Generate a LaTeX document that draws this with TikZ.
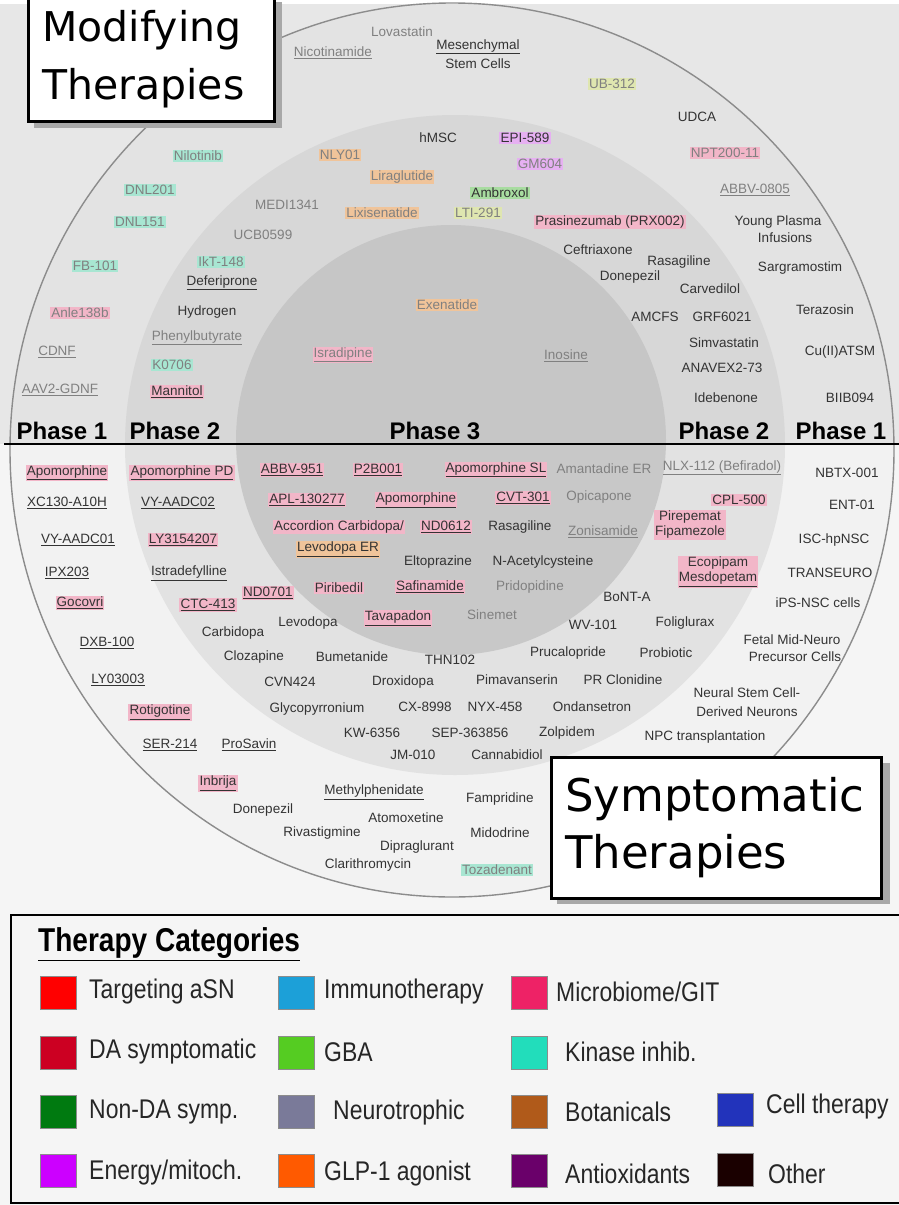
\documentclass[tikz,border=0pt]{standalone}
\usepackage{fontspec}
\setmainfont{Liberation Sans}
\newfontfamily\boxfont{DejaVu Sans}
\newfontfamily\legfont[FakeStretch=0.85]{Liberation Sans}
\newcommand\drugsz{\fontsize{13.5}{15}\selectfont}
\newcommand\udl[1]{\underline{#1}}
\definecolor{bgbot}{HTML}{F5F5F5}
\definecolor{bgtop}{HTML}{E7E7E7}
\definecolor{rOneT}{HTML}{E3E3E3}
\definecolor{rTwoT}{HTML}{D7D7D7}
\definecolor{rThrT}{HTML}{C6C6C6}
\definecolor{rOneB}{HTML}{F2F2F2}
\definecolor{rTwoB}{HTML}{E2E2E2}
\definecolor{rThrB}{HTML}{C8C8C8}
\definecolor{outl}{HTML}{8C8C8C}
\definecolor{shadowc}{HTML}{A8A8A8}
\definecolor{txtd}{HTML}{333333}
\definecolor{txtf}{HTML}{808080}
\definecolor{hlpink}{HTML}{F2B6C8}
\definecolor{hlorange}{HTML}{F0C49A}
\definecolor{hlteal}{HTML}{A8E6D2}
\definecolor{hlyg}{HTML}{DFE6B0}
\definecolor{hlgreen}{HTML}{A8DCA0}
\definecolor{hlviolet}{HTML}{E6B0F2}
\definecolor{cTarg}{HTML}{FF0000}
\definecolor{cDA}{HTML}{CC0022}
\definecolor{cNonDA}{HTML}{007A10}
\definecolor{cEnergy}{HTML}{CC00FF}
\definecolor{cImmuno}{HTML}{1CA0D8}
\definecolor{cGBA}{HTML}{55CC22}
\definecolor{cNeuro}{HTML}{7A7A99}
\definecolor{cGLP}{HTML}{FF5A00}
\definecolor{cMicro}{HTML}{EE2266}
\definecolor{cKinase}{HTML}{22DDBB}
\definecolor{cBot}{HTML}{B05A1A}
\definecolor{cAnti}{HTML}{6A006A}
\definecolor{cCell}{HTML}{2233BB}
\definecolor{cOther}{HTML}{1A0000}
\tikzset{
  drug/.style={font=\drugsz, text=txtd, inner sep=1.2pt},
  fnt/.style={drug, text=txtf},
  hpk/.style={fill=hlpink},
  hog/.style={fill=hlorange},
  htl/.style={fill=hlteal},
  hyg/.style={fill=hlyg},
  hgr/.style={fill=hlgreen},
  hvi/.style={fill=hlviolet},
  phase/.style={font=\fontsize{24}{26}\selectfont\bfseries, text=black, inner sep=1pt},
  titlebox/.style={draw=black, line width=2.5pt, fill=white, align=left, anchor=north west, inner xsep=14pt, inner ysep=0pt},
  swatch/.style={minimum width=36pt, minimum height=33pt, inner sep=0pt, draw=black!45, line width=0.8pt},
  legtext/.style={font=\legfont\fontsize{27}{29}\selectfont, anchor=west, text=black!85, inner sep=0pt},
}
\begin{document}
\begin{tikzpicture}[x=1pt,y=-1pt]
\useasboundingbox (0,0) rectangle (899,1205);
\fill[bgbot] (0,0) rectangle (899,1205);
% top half
\begin{scope}
\clip (0,4) rectangle (899,444);
\fill[bgtop] (0,4) rectangle (899,444);
\fill[rOneT] (452,450) ellipse (442 and 447);
\fill[rTwoT] (455,445) circle (330);
\fill[rThrT] (451,440) circle (215);
\end{scope}
% bottom half
\begin{scope}
\clip (0,444) rectangle (899,1205);
\fill[rOneB] (452,450) ellipse (442 and 447);
\fill[rTwoB] (455,445) circle (330);
\fill[rThrB] (451,440) circle (215);
\end{scope}
\fill[white] (0,0) rectangle (899,4);
\draw[outl, line width=1.4pt] (452,450) ellipse (442 and 447);

% divider
\coordinate (dl) at (4,444);
\coordinate (dr) at (899,444);
\draw[line width=2.2pt] (dl) -- (dr);

% phase labels
\node[phase] (p1) at (62,431) {Phase 1};
\node[phase] (p2) at (175,431) {Phase 2};
\node[phase] (p3) at (435,431) {Phase 3};
\node[phase] (p4) at (724,431) {Phase 2};
\node[phase] (p5) at (841,431) {Phase 1};

% ---------- top half: modifying ----------
\node[fnt] (t1) at (402,32) {Lovastatin};
\node[fnt] (t2) at (333,53) {\udl{Nicotinamide}};
\node[drug] (t3) at (478,47) {\udl{Mesenchymal}};
\node[drug] (t4) at (478,64) {Stem Cells};
\node[fnt,hyg] (t5) at (612,84) {UB-312};
\node[drug] (t6) at (697,117) {UDCA};
\node[fnt,hpk] (t7) at (725,153) {NPT200-11};
\node[fnt] (t8) at (755,190) {\udl{ABBV-0805}};
\node[drug] (t9) at (778,222) {Young Plasma};
\node[drug] (t10) at (785,238) {Infusions};
\node[drug] (t11) at (800,268) {Sargramostim};
\node[drug] (t12) at (825,310) {Terazosin};
\node[drug] (t13) at (840,352) {Cu(II)ATSM};
\node[drug] (t14) at (850,398) {BIIB094};
\node[drug] (t15) at (438,138) {hMSC};
\node[drug,hvi] (t16) at (525,138) {EPI-589};
\node[fnt,hvi] (t17) at (540,164) {GM604};
\node[drug,hgr] (t18) at (500,193) {Ambroxol};
\node[fnt,hyg] (t19) at (478,213) {LTI-291};
\node[drug,hpk] (t20) at (610,222) {Prasinezumab (PRX002)};
\node[drug] (t21) at (598,250) {Ceftriaxone};
\node[drug] (t22) at (679,262) {Rasagiline};
\node[drug] (t23) at (630,277) {Donepezil};
\node[drug] (t24) at (710,289) {Carvedilol};
\node[drug] (t25) at (655,317) {AMCFS};
\node[drug] (t26) at (722,317) {GRF6021};
\node[drug] (t27) at (724,343) {Simvastatin};
\node[drug] (t28) at (722,368) {ANAVEX2-73};
\node[drug] (t29) at (726,398) {Idebenone};
\node[fnt,hog] (t30) at (340,155) {NLY01};
\node[fnt,hog] (t31) at (402,177) {Liraglutide};
\node[fnt,hog] (t32) at (382,213) {Lixisenatide};
\node[fnt] (t33) at (287,205) {MEDI1341};
\node[fnt] (t34) at (263,235) {UCB0599};
\node[fnt,htl] (t35) at (198,156) {Nilotinib};
\node[fnt,htl] (t36) at (150,190) {DNL201};
\node[fnt,htl] (t37) at (140,222) {DNL151};
\node[fnt,htl] (t38) at (95,266) {FB-101};
\node[fnt,htl] (t39) at (221,262) {IkT-148};
\node[drug] (t40) at (222,283) {\udl{Deferiprone}};
\node[drug] (t41) at (207,312) {Hydrogen};
\node[fnt] (t42) at (197,338) {\udl{Phenylbutyrate}};
\node[fnt,htl] (t43) at (172,365) {K0706};
\node[drug,hpk] (t44) at (177,392) {\udl{Mannitol}};
\node[fnt,hpk] (t45) at (80,313) {Anle138b};
\node[fnt] (t46) at (57,352) {\udl{CDNF}};
\node[fnt] (t47) at (60,390) {\udl{AAV2-GDNF}};
\node[fnt,hpk] (t48) at (343,355) {\udl{Isradipine}};
\node[fnt,hog] (t49) at (447,305) {Exenatide};
\node[fnt] (t50) at (566,356) {\udl{Inosine}};

% ---------- bottom half: symptomatic ----------
\node[drug,hpk] (b1) at (67,473) {\udl{Apomorphine}};
\node[drug] (b2) at (67,503) {\udl{XC130-A10H}};
\node[drug] (b3) at (78,540) {\udl{VY-AADC01}};
\node[drug] (b4) at (67,573) {\udl{IPX203}};
\node[drug,hpk] (b5) at (80,603) {\udl{Gocovri}};
\node[drug] (b6) at (107,643) {\udl{DXB-100}};
\node[drug] (b7) at (118,680) {\udl{LY03003}};
\node[drug,hpk] (b8) at (160,712) {\udl{Rotigotine}};
\node[drug] (b9) at (170,745) {\udl{SER-214}};
\node[drug] (b10) at (249,745) {\udl{ProSavin}};
\node[drug,hpk] (b11) at (218,783) {\udl{Inbrija}};
\node[drug] (b12) at (263,810) {Donepezil};
\node[drug] (b13) at (374,792) {\udl{Methylphenidate}};
\node[drug] (b14) at (406,818) {Atomoxetine};
\node[drug] (b15) at (322,833) {Rivastigmine};
\node[drug] (b16) at (417,847) {Dipraglurant};
\node[drug] (b17) at (368,865) {Clarithromycin};
\node[drug] (b18) at (500,799) {Fampridine};
\node[drug] (b19) at (500,833) {Midodrine};
\node[fnt,htl] (b20) at (497,870) {Tozadenant};
\node[drug,hpk] (b21) at (182,473) {\udl{Apomorphine PD}};
\node[drug] (b22) at (178,503) {\udl{VY-AADC02}};
\node[drug,hpk] (b23) at (183,540) {\udl{LY3154207}};
\node[drug] (b24) at (189,573) {\udl{Istradefylline}};
\node[drug,hpk] (b25) at (208,605) {\udl{CTC-413}};
\node[drug,hpk] (b26) at (268,593) {\udl{ND0701}};
\node[drug] (b27) at (233,633) {Carbidopa};
\node[drug] (b28) at (308,623) {Levodopa};
\node[drug,hpk] (b29) at (398,618) {\udl{Tavapadon}};
\node[drug,hpk] (b30) at (292,470) {\udl{ABBV-951}};
\node[drug,hpk] (b31) at (378,470) {\udl{P2B001}};
\node[drug,hpk] (b32) at (496,470) {\udl{Apomorphine SL}};
\node[fnt] (b33) at (604,469) {Amantadine ER};
\node[fnt] (b34) at (722,468) {\udl{NLX-112 (Befiradol)}};
\node[drug] (b35) at (847,473) {NBTX-001};
\node[drug] (b36) at (852,505) {ENT-01};
\node[drug] (b37) at (834,540) {ISC-hpNSC};
\node[drug] (b38) at (830,573) {TRANSEURO};
\node[drug] (b39) at (818,603) {iPS-NSC cells};
\node[drug,hpk] (b40) at (307,500) {\udl{APL-130277}};
\node[drug,hpk] (b41) at (416,500) {\udl{Apomorphine}};
\node[drug,hpk] (b42) at (523,498) {\udl{CVT-301}};
\node[fnt] (b43) at (599,497) {Opicapone};
\node[drug,hpk] (b44) at (739,500) {CPL-500};
\node[drug,hpk,align=center] (b45) at (690,525) {Pirepemat\\Fipamezole};
\node[drug,hpk,align=center] (b46) at (718,572) {Ecopipam\\\udl{Mesdopetam}};
\node[drug,hpk] (b47) at (339,527) {Accordion Carbidopa/};
\node[drug,hog] (b48) at (338,549) {\udl{Levodopa ER}};
\node[drug,hpk] (b49) at (446,527) {\udl{ND0612}};
\node[drug] (b50) at (520,527) {Rasagiline};
\node[fnt] (b51) at (603,532) {\udl{Zonisamide}};
\node[drug] (b52) at (438,562) {Eltoprazine};
\node[drug] (b53) at (543,562) {N-Acetylcysteine};
\node[drug,hpk] (b54) at (339,588) {Piribedil};
\node[drug,hpk] (b55) at (430,587) {\udl{Safinamide}};
\node[fnt] (b56) at (530,587) {Pridopidine};
\node[drug] (b57) at (627,597) {BoNT-A};
\node[fnt] (b58) at (492,615) {Sinemet};
\node[drug] (b59) at (593,625) {WV-101};
\node[drug] (b60) at (685,623) {Foliglurax};
\node[drug] (b61) at (792,640) {Fetal Mid-Neuro};
\node[drug] (b62) at (795,657) {Precursor Cells};
\node[drug] (b63) at (747,693) {Neural Stem Cell-};
\node[drug] (b64) at (747,712) {Derived Neurons};
\node[drug] (b65) at (705,737) {NPC transplantation};
\node[drug] (b66) at (568,653) {Prucalopride};
\node[drug] (b67) at (666,653) {Probiotic};
\node[drug] (b68) at (517,680) {Pimavanserin};
\node[drug] (b69) at (623,680) {PR Clonidine};
\node[drug] (b70) at (495,707) {NYX-458};
\node[drug] (b71) at (592,707) {Ondansetron};
\node[drug] (b72) at (470,733) {SEP-363856};
\node[drug] (b73) at (567,733) {Zolpidem};
\node[drug] (b74) at (372,733) {KW-6356};
\node[drug] (b75) at (413,755) {JM-010};
\node[drug] (b76) at (507,755) {Cannabidiol};
\node[drug] (b77) at (317,709) {Glycopyrronium};
\node[drug] (b78) at (425,707) {CX-8998};
\node[drug] (b79) at (290,682) {CVN424};
\node[drug] (b80) at (403,682) {Droxidopa};
\node[drug] (b81) at (254,657) {Clozapine};
\node[drug] (b82) at (352,657) {Bumetanide};
\node[drug] (b83) at (450,660) {THN102};

% ---------- title boxes ----------
\fill[shadowc] (34,2) rectangle (282,128);
\node[titlebox, minimum height=125pt, text width=218pt, font=\boxfont\fontsize{41}{58}\selectfont] (modbox) at (27,-5) {Modifying\\Therapies};
\fill[shadowc] (557,763) rectangle (890,904);
\node[titlebox, minimum height=141pt, text width=302pt, font=\boxfont\fontsize{45}{57}\selectfont] (symbox) at (550,756) {Symptomatic\\Therapies};

% ---------- legend ----------
\draw[line width=2pt, fill=bgbot] (11,915) rectangle (905,1203);
\node[font=\legfont\fontsize{33}{35}\selectfont\bfseries, anchor=west, inner sep=0pt] (lt) at (38,944) {\underline{Therapy Categories}};

\node[swatch, fill=cTarg] (s1) at (58,993) {};
\node[legtext] (l1) at (89,992) {Targeting aSN};
\node[swatch, fill=cDA] (s2) at (58,1053) {};
\node[legtext] (l2) at (89,1052) {DA symptomatic};
\node[swatch, fill=cNonDA] (s3) at (58,1112) {};
\node[legtext] (l3) at (89,1112) {Non-DA symp.};
\node[swatch, fill=cEnergy] (s4) at (58,1171) {};
\node[legtext] (l4) at (89,1173) {Energy/mitoch.};

\node[swatch, fill=cImmuno] (s5) at (296,993) {};
\node[legtext] (l5) at (324,992) {Immunotherapy};
\node[swatch, fill=cGBA] (s6) at (296,1053) {};
\node[legtext] (l6) at (324,1052) {GBA};
\node[swatch, fill=cNeuro] (s7) at (296,1112) {};
\node[legtext] (l7) at (333,1113) {Neurotrophic};
\node[swatch, fill=cGLP] (s8) at (296,1171) {};
\node[legtext] (l8) at (324,1174) {GLP-1 agonist};

\node[swatch, fill=cMicro] (s9) at (529,993) {};
\node[legtext] (l9) at (556,992) {Microbiome/GIT};
\node[swatch, fill=cKinase] (s10) at (529,1053) {};
\node[legtext] (l10) at (565,1052) {Kinase inhib.};
\node[swatch, fill=cBot] (s11) at (529,1112) {};
\node[legtext] (l11) at (565,1112) {Botanicals};
\node[swatch, fill=cAnti] (s12) at (529,1171) {};
\node[legtext] (l12) at (565,1174) {Antioxidants};

\node[swatch, fill=cCell] (s13) at (735,1110) {};
\node[legtext] (l13) at (766,1107) {Cell therapy};
\node[swatch, fill=cOther] (s14) at (735,1170) {};
\node[legtext] (l14) at (768,1174) {Other};
\end{tikzpicture}
\end{document}
